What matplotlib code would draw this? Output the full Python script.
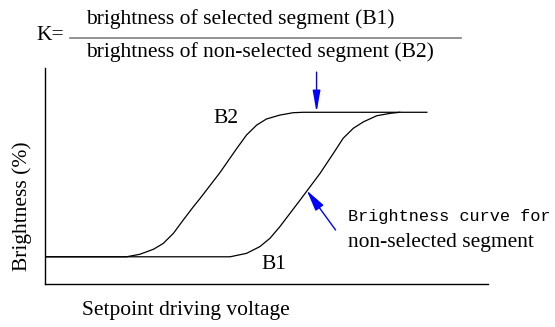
import matplotlib
matplotlib.use("Agg")
import matplotlib.pyplot as plt
from matplotlib.lines import Line2D

# ---- data (voltage in arbitrary units 0..10, brightness in %) ----
b2_voltage = [0.0, 1.84, 2.14, 2.45, 2.67, 2.90, 3.12, 3.35, 3.50, 3.95, 4.33,
              4.55, 4.78, 5.00, 5.30, 5.60, 5.83, 8.62]
b2_brightness = [12.6, 12.6, 13.75, 16.1, 18.8, 23.5, 29.6, 35.8, 39.6, 51.6, 62.8,
                 69.0, 73.6, 76.4, 78.2, 79.3, 79.5, 79.5]

b1_voltage = [0.0, 4.18, 4.55, 4.85, 5.08, 5.30, 5.53, 5.76, 6.21, 6.51, 6.73,
              6.96, 7.19, 7.49, 7.79, 8.01]
b1_brightness = [12.6, 12.6, 14.2, 17.3, 21.2, 26.5, 32.7, 38.9, 51.25, 60.5, 67.45,
                 72.1, 75.1, 77.9, 79.0, 79.5]

title_num = "brightness of selected segment (B1)"
title_den = "brightness of non-selected segment (B2)"
x_label = "Setpoint driving voltage"
y_label = "Brightness (%)"
note_line1 = "Brightness curve for"
note_line2 = "non-selected segment"

W, H = 555, 327
fig = plt.figure(figsize=(W / 100, H / 100), dpi=100)

def fx(px):
    return px / W

def fy(py):
    return 1 - py / H

serif = "Liberation Serif"
fs = 15.5

ax = fig.add_axes([fx(45), fy(284), fx(488) - fx(45), fy(68) - fy(284)])
ax.set_xlim(0, 10)
ax.set_ylim(0, 100)
for s in ["top", "right"]:
    ax.spines[s].set_visible(False)
for s in ["left", "bottom"]:
    ax.spines[s].set_linewidth(1.0)
    ax.spines[s].set_color("black")
ax.set_xticks([])
ax.set_yticks([])
ax.patch.set_alpha(0)

ax.plot(b2_voltage, b2_brightness, color="black", lw=0.9, solid_joinstyle="round")
ax.plot(b1_voltage, b1_brightness, color="black", lw=0.9, solid_joinstyle="round")

ax.text(4.09, 76.4, "B2", fontsize=fs, family=serif, ha="center", va="center")
ax.text(5.17, 8.8, "B1", fontsize=fs, family=serif, ha="center", va="center")

# arrows
ax.annotate("", xy=(6.13, 79.5), xytext=(6.13, 98.1),
            arrowprops=dict(arrowstyle="-|>,head_length=13,head_width=2.3",
                            mutation_scale=1, color="#0000ff", lw=1.0,
                            shrinkA=0, shrinkB=0),
            annotation_clip=False)
ax.annotate("", xy=(5.91, 43.3), xytext=(6.56, 25.0),
            arrowprops=dict(arrowstyle="-|>,head_length=13,head_width=3.0",
                            mutation_scale=1, color="#0000ff", lw=1.0,
                            shrinkA=0, shrinkB=0))

fig.text(fx(348), fy(217), note_line1, fontsize=12.2, family="Liberation Mono",
         ha="left", va="center")
fig.text(fx(348), fy(242), note_line2, fontsize=fs, family=serif,
         ha="left", va="center")

# axis labels
fig.text(fx(186), fy(311), x_label, fontsize=fs, family=serif, ha="center", va="center")
fig.text(fx(22), fy(206), y_label, fontsize=fs, family=serif, ha="center", va="center",
         rotation=90)

# title formula
fig.text(fx(36), fy(35), "K=", fontsize=fs, family=serif, ha="left", va="center")
fig.text(fx(86), fy(19), title_num, fontsize=fs, family=serif, ha="left", va="center")
fig.text(fx(86), fy(52), title_den, fontsize=fs, family=serif, ha="left", va="center")
fig.add_artist(Line2D([fx(70), fx(461)], [fy(37.7), fy(37.7)], color="#808080", lw=1.2))

fig.savefig("out.png", dpi=100)
